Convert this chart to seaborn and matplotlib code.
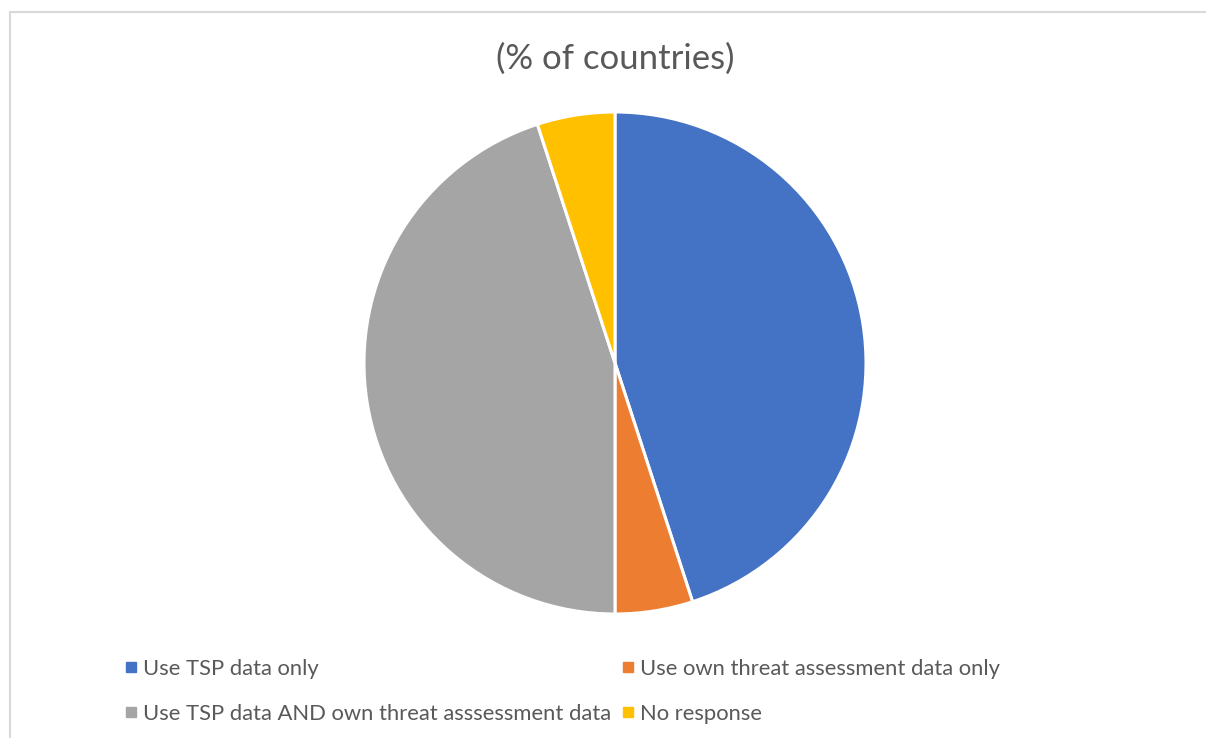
import matplotlib
matplotlib.use("Agg")
import matplotlib.pyplot as plt
from matplotlib.patches import Rectangle
from matplotlib.lines import Line2D
import seaborn as sns

categories = ["Use TSP data only",
              "Use own threat assessment data only",
              "Use TSP data AND own threat asssessment data",
              "No response"]
values = [45, 5, 45, 5]
colors = ["#4472C4", "#ED7D31", "#A5A5A5", "#FFC000"]
title = "(% of countries)"

sns.set_theme(style="white")
plt.rcParams['font.family'] = ['Lato', 'DejaVu Sans']

W, H = 1206, 738
fig = plt.figure(figsize=(W / 100, H / 100), dpi=100)
fig.patch.set_facecolor("white")

# pie axes: center (615, 363), radius 251 px
cx, cy, r = 615, 363, 251
ax = fig.add_axes([(cx - r) / W, (H - cy - r) / H, 2 * r / W, 2 * r / H])
ax.pie(values, colors=colors, startangle=90, counterclock=False, radius=1,
       wedgeprops=dict(edgecolor="white", linewidth=2.2))
ax.set_xlim(-1, 1)
ax.set_ylim(-1, 1)
ax.set_aspect("auto")
ax.axis("off")

fig.text(615 / W, 1 - 59 / H, title, ha="center", va="center",
         fontsize=25, color="#595959")

handles = [Line2D([], [], marker="s", linestyle="none", markersize=7,
                  color=c) for c in colors]
order = [0, 2, 1, 3]
leg = fig.legend([handles[i] for i in order], [categories[i] for i in order],
                 ncol=2, loc="upper left", bbox_to_anchor=(116 / W, 1 - 650 / H),
                 frameon=False, fontsize=15.8, labelcolor="#595959",
                 handlelength=0.6, handletextpad=0.25, columnspacing=0.43,
                 labelspacing=1.15, borderaxespad=0)

border = Rectangle((10 / W, -0.1), 1.2, 1 - 12 / H + 0.1, transform=fig.transFigure,
                   fill=False, edgecolor="#D9D9D9", linewidth=1.5)
fig.patches.append(border)

fig.savefig("out.png", dpi=100, facecolor="white")
